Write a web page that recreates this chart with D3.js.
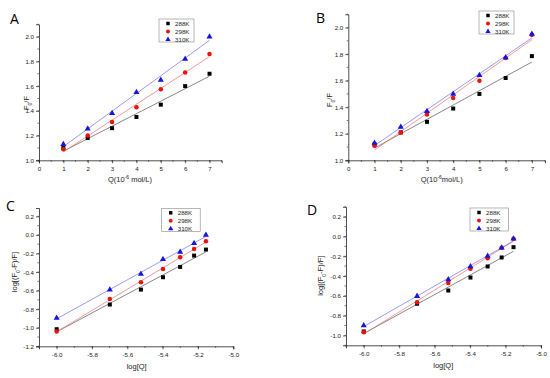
<!DOCTYPE html>
<html>
<head>
<meta charset="utf-8">
<script src="https://cdn.jsdelivr.net/npm/d3@7"></script>
<style>
  body { margin: 0; background: #fff; }
  svg { display: block; font-family: "Liberation Sans", Arial, sans-serif; }
</style>
</head>
<body>
<div id="stage"></div>
<script>
// ---- data ----
const temps = ["288K", "298K", "310K"];
const concQ = [1, 2, 3, 4, 5, 6, 7];
const logQ = [-6.0, -5.699, -5.523, -5.398, -5.301, -5.222, -5.155];

const sternA288 = [1.10, 1.18, 1.26, 1.35, 1.45, 1.60, 1.70];
const sternA298 = [1.09, 1.20, 1.31, 1.43, 1.575, 1.71, 1.86];
const sternA310 = [1.13, 1.255, 1.38, 1.55, 1.65, 1.82, 2.00];

const sternB288 = [1.12, 1.21, 1.29, 1.39, 1.50, 1.62, 1.785];
const sternB298 = [1.11, 1.21, 1.345, 1.47, 1.60, 1.77, 1.945];
const sternB310 = [1.13, 1.25, 1.37, 1.50, 1.64, 1.775, 1.952];

const dblC288 = [-1.016, -0.75, -0.589, -0.456, -0.345, -0.223, -0.158];
const dblC298 = [-1.04, -0.69, -0.51, -0.366, -0.24, -0.151, -0.068];
const dblC310 = [-0.894, -0.592, -0.42, -0.262, -0.183, -0.09, 0.0];

const dblD288 = [-0.96, -0.68, -0.546, -0.415, -0.303, -0.212, -0.108];
const dblD298 = [-0.967, -0.664, -0.469, -0.327, -0.22, -0.115, -0.024];
const dblD310 = [-0.90, -0.603, -0.435, -0.303, -0.198, -0.115, -0.024];

const markColors = ["#000000", "#ee1111", "#1515dd"];
const fitColors = ["#555555", "#f07070", "#7070f0"];

const svg = d3.select("#stage").append("svg")
  .attr("width", 550)
  .attr("height", 378);

const fit = (xs, ys) => {
  const mx = d3.mean(xs), my = d3.mean(ys);
  const sxy = d3.sum(xs, (x, i) => (x - mx) * (ys[i] - my));
  const sxx = d3.sum(xs, x => (x - mx) * (x - mx));
  const b = sxy / sxx;
  return x => my + b * (x - mx);
}

const symbols = [d3.symbolSquare, d3.symbolCircle, d3.symbolTriangle];
const symSizes = [16, 16, 16];

const drawPanel = (p) => {
  const g = svg.append("g");
  const x = d3.scaleLinear().domain(p.xDomain).range(p.xRange);
  const y = d3.scaleLinear().domain(p.yDomain).range(p.yRange);

  // minor ticks
  const minorX = d3.range(p.xDomain[0], p.xDomain[1] + 1e-9, p.xStep / 2);
  const minorY = d3.range(p.yDomain[0], p.yDomain[1] + 1e-9, p.yStep / 2);

  const xAxis = d3.axisBottom(x).tickValues(p.xTicks).tickSize(3).tickPadding(3)
    .tickFormat(p.xFmt);
  const yAxis = d3.axisLeft(y).tickValues(p.yTicks).tickSize(3).tickPadding(2)
    .tickFormat(d => d.toFixed(1).replace("-0.0", "0.0"));

  const gx = g.append("g").attr("transform", `translate(0,${p.yRange[0]})`).call(xAxis);
  const gy = g.append("g").attr("transform", `translate(${p.xRange[0]},0)`).call(yAxis);
  [gx, gy].forEach(a => {
    a.select(".domain").attr("stroke", "#222").attr("stroke-width", 0.8);
    a.selectAll(".tick line").attr("stroke", "#222").attr("stroke-width", 0.7);
    a.selectAll("text").attr("font-size", 6.2).attr("fill", "#222");
  });

  g.selectAll(".mx").data(minorX).join("line")
    .attr("x1", d => x(d)).attr("x2", d => x(d))
    .attr("y1", p.yRange[0]).attr("y2", p.yRange[0] + 1.6)
    .attr("stroke", "#222").attr("stroke-width", 0.6);
  g.selectAll(".my").data(minorY).join("line")
    .attr("y1", d => y(d)).attr("y2", d => y(d))
    .attr("x1", p.xRange[0]).attr("x2", p.xRange[0] - 1.6)
    .attr("stroke", "#222").attr("stroke-width", 0.6);

  // fit lines
  p.series.forEach((ys, i) => {
    const f = fit(p.xs, ys);
    const x0 = d3.min(p.xs), x1 = d3.max(p.xs);
    g.append("line")
      .attr("x1", x(x0)).attr("y1", y(f(x0)))
      .attr("x2", x(x1)).attr("y2", y(f(x1)))
      .attr("stroke", fitColors[i]).attr("stroke-width", 0.7);
  });

  // points
  p.series.forEach((ys, i) => {
    g.selectAll(`.pt${i}`).data(ys).join("path")
      .attr("transform", (d, j) => `translate(${x(p.xs[j])},${y(d)})`)
      .attr("d", d3.symbol(symbols[i], symSizes[i])())
      .attr("fill", markColors[i]);
  });

  // legend
  const lg = g.append("g").attr("transform", `translate(${p.legend[0]},${p.legend[1]})`);
  lg.append("rect").attr("width", p.legend[2]).attr("height", 23)
    .attr("fill", "#fff").attr("stroke", "#888").attr("stroke-width", 0.6);
  temps.forEach((t, i) => {
    lg.append("path")
      .attr("transform", `translate(9,${4.5 + i * 8})`)
      .attr("d", d3.symbol(symbols[i], 12)())
      .attr("fill", markColors[i]);
    lg.append("text").attr("x", 16).attr("y", 4.5 + i * 8).attr("dy", "0.35em")
      .attr("font-size", 6.2).attr("fill", "#222").text(t);
  });

  // panel letter
  svg.append("text").attr("x", p.letter[0]).attr("y", p.letter[1])
    .attr("font-size", 14).attr("font-family", "'Open Sans', 'Liberation Sans', sans-serif")
    .attr("fill", "#000").text(p.name);

  // x title
  const xt = svg.append("text").attr("x", p.xTitle[0]).attr("y", p.xTitle[1])
    .attr("text-anchor", "middle").attr("font-size", 7.5).attr("fill", "#222");
  p.xTitleParts.forEach(([s, sup]) => {
    xt.append("tspan").attr("baseline-shift", sup ? "super" : null)
      .attr("font-size", sup ? 5 : null).text(s);
  });

  // y title
  const yt = svg.append("text")
    .attr("transform", `translate(${p.yTitle[0]},${p.yTitle[1]}) rotate(-90)`)
    .attr("text-anchor", "middle").attr("font-size", 7.5).attr("fill", "#222");
  p.yTitleParts.forEach(([s, sub]) => {
    yt.append("tspan").attr("baseline-shift", sub ? "sub" : null)
      .attr("font-size", sub ? 5 : null).text(s);
  });
}

const intFmt = d => d3.format("d")(d);
const decFmt = d => d.toFixed(1);
const sternYTicks = d3.range(1.0, 2.01, 0.2);
const dblXTicks = d3.range(-6.0, -4.99, 0.2);

drawPanel({
  name: "A", xs: concQ, series: [sternA288, sternA298, sternA310],
  xDomain: [0, 7.5], xRange: [39, 221.7], xStep: 1, xTicks: concQ.concat([0]), xFmt: intFmt,
  yDomain: [1.0, 2.1], yRange: [160.3, 24.3], yStep: 0.2, yTicks: sternYTicks,
  legend: [159, 19, 35], letter: [10, 23.5],
  xTitle: [130, 182], xTitleParts: [["Q(10"], ["-6", true], [" mol/L)"]],
  yTitle: [29, 103], yTitleParts: [["F"], ["0", true], ["/F"]]
});

drawPanel({
  name: "B", xs: concQ, series: [sternB288, sternB298, sternB310],
  xDomain: [0, 7.5], xRange: [348.3, 545], xStep: 1, xTicks: concQ.concat([0]), xFmt: intFmt,
  yDomain: [1.0, 2.1], yRange: [160.3, 14.3], yStep: 0.2, yTicks: sternYTicks,
  legend: [479, 11, 35], letter: [316, 23],
  xTitle: [441.7, 182], xTitleParts: [["Q(10"], ["-6", true], ["mol/L)"]],
  yTitle: [332, 100], yTitleParts: [["F"], ["0", true], ["/F"]]
});

drawPanel({
  name: "C", xs: logQ, series: [dblC288, dblC298, dblC310],
  xDomain: [-6.1, -5.0], xRange: [39, 233.3], xStep: 0.2, xTicks: dblXTicks, xFmt: decFmt,
  yDomain: [-1.2, 0.29], yRange: [346.3, 208], yStep: 0.2, yTicks: d3.range(-1.2, 0.21, 0.2),
  legend: [161.7, 208.3, 38.5], letter: [6, 210.5],
  xTitle: [136.7, 369], xTitleParts: [["log[Q]"]],
  yTitle: [17, 272], yTitleParts: [["log[(F"], ["0", true], ["-F)/F]"]]
});

drawPanel({
  name: "D", xs: logQ, series: [dblD288, dblD298, dblD310],
  xDomain: [-6.1, -5.0], xRange: [346, 541], xStep: 0.2, xTicks: dblXTicks, xFmt: decFmt,
  yDomain: [-1.1, 0.3], yRange: [345.3, 206.8], yStep: 0.2, yTicks: d3.range(-1.0, 0.21, 0.2),
  legend: [470, 208, 38.5], letter: [307, 214.5],
  xTitle: [443.3, 368], xTitleParts: [["log[Q]"]],
  yTitle: [323, 275.7], yTitleParts: [["log[(F"], ["0", true], ["-F)/F]"]]
});
</script>
</body>
</html>
